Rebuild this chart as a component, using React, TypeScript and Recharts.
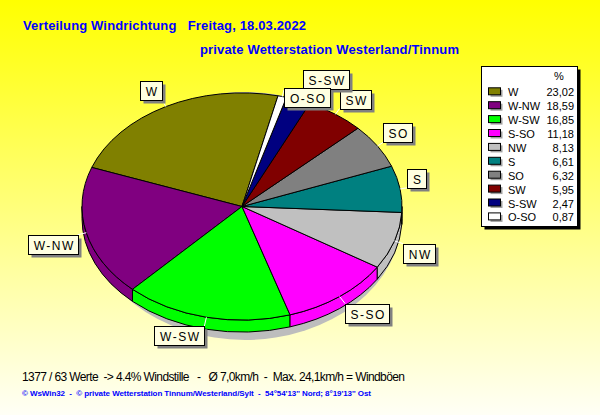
import React from 'react';
import { PieChart, Pie } from 'recharts';

const names = ['W', 'W-NW', 'W-SW', 'S-SO', 'NW', 'S', 'SO', 'SW', 'S-SW', 'O-SO'];
const values = [23.02, 18.59, 16.85, 11.18, 8.13, 6.61, 6.32, 5.95, 2.47, 0.87];
const colors = ['#808000', '#800080', '#00FF00', '#FF00FF', '#C0C0C0', '#008080', '#808080', '#800000', '#000080', '#FFFFFF'];

const titleLine1 = 'Verteilung Windrichtung   Freitag, 18.03.2022';
const titleLine2 = 'private Wetterstation Westerland/Tinnum';
const footerLine1 = '1377 / 63 Werte  -> 4.4% Windstille   -   Ø 7,0km/h  -  Max. 24,1km/h = Windböen';
const footerLine2 = "© WsWin32  -  © private Wetterstation Tinnum/Westerland/Sylt  -  54°54'13'' Nord; 8°19'13'' Ost";
const legendHeader = '%';

const data = names.map((n, i) => ({ name: n, value: values[i], fill: colors[i] }));

const RAD = Math.PI / 180;
const TILT = 0.71;
const DEPTH = 12;
const FONT = 'Arial, "Liberation Sans", sans-serif';

function ept(cx: number, cy: number, r: number, a: number, dy = 0): [number, number] {
  return [cx + r * Math.cos(a * RAD), cy - r * TILT * Math.sin(a * RAD) + dy];
}
const f = (p: [number, number]) => `${p[0].toFixed(2)},${p[1].toFixed(2)}`;

function Slice(props: any) {
  const { cx, cy, outerRadius: r, startAngle, endAngle, fill } = props;
  const s = Math.min(startAngle, endAngle);
  const e = Math.max(startAngle, endAngle);
  const ry = r * TILT;
  const large = e - s > 180 ? 1 : 0;
  const top = `M${cx},${cy} L${f(ept(cx, cy, r, s))} A${r},${ry} 0 ${large} 0 ${f(ept(cx, cy, r, e))} Z`;
  const walls: string[] = [];
  for (const k of [0, 360]) {
    const a = Math.max(s, 180 + k);
    const b = Math.min(e, 360 + k);
    if (b > a) {
      walls.push(
        `M${f(ept(cx, cy, r, a))} A${r},${ry} 0 0 0 ${f(ept(cx, cy, r, b))} L${f(ept(cx, cy, r, b, DEPTH))} A${r},${ry} 0 0 1 ${f(ept(cx, cy, r, a, DEPTH))} Z`
      );
    }
  }
  return (
    <g>
      {walls.map((d, i) => (
        <path key={i} d={d} fill={fill} stroke="#000" strokeWidth={1} />
      ))}
      <path d={top} fill={fill} stroke="#000" strokeWidth={1} />
    </g>
  );
}

const charW: Record<string, number> = { W: 11.3, N: 8.7, S: 8.0, O: 9.3, '-': 4.0 };
const textWidth = (t: string) => t.split('').reduce((acc, ch) => acc + (charW[ch] || 8) + 1.5, 0);

const labelNudge: Record<string, [number, number]> = { 'S-SW': [2, -5], 'O-SO': [0, 17] };

function renderLabel(props: any) {
  const { cx, cy, midAngle, outerRadius: r, name } = props;
  const c = Math.cos(midAngle * RAD);
  const sn = Math.sin(midAngle * RAD);
  const [ax, ay] = ept(cx, cy, r, midAngle);
  const L = sn < 0 ? 9 : 7;
  const ex = ax + L * c;
  const ey = ay - L * sn;
  const w = Math.round(textWidth(name) + 9);
  const h = 19;
  const nd = labelNudge[name] || [0, 0];
  const bx = Math.round((c >= 0 ? ex : ex - w) + nd[0]) + 0.5;
  const by = Math.round((sn >= 0 ? ey - h : ey) + nd[1]) + 0.5;
  return (
    <g>
      <line x1={ax} y1={ay} x2={ex} y2={ey} stroke="#FFFFFF" strokeWidth={1} />
      <rect x={bx + 3} y={by + 3} width={w} height={h} fill="#808080" />
      <rect x={bx} y={by} width={w} height={h} fill="#FFFFE1" stroke="#000" strokeWidth={1} />
      <text x={bx + w / 2 + 0.75} y={by + 14} textAnchor="middle" fontSize={12} letterSpacing={1.5} fontFamily={FONT} fill="#000">
        {name}
      </text>
    </g>
  );
}

function Background() {
  const rowY = (i: number) => 96.3 + 13.9 * i;
  return (
    <svg width={600} height={415} style={{ position: 'absolute', left: 0, top: 0 }}>
      <defs>
        <linearGradient id="bg" x1="0" y1="0" x2="0" y2="1">
          <stop offset="0%" stopColor="#FFFF00" />
          <stop offset="100%" stopColor="#FFFFF6" />
        </linearGradient>
      </defs>
      <rect x={0} y={0} width={600} height={415} fill="url(#bg)" />
      <ellipse cx={245} cy={216} rx={157} ry={124} fill="#BDBDBD" />
      <text x={23} y={30} fontSize={13} fontWeight="bold" fontFamily={FONT} fill="#0000FF" textLength={283} style={{ whiteSpace: 'pre' }}>
        {titleLine1}
      </text>
      <text x={200} y={54} fontSize={13} fontWeight="bold" fontFamily={FONT} fill="#0000FF" textLength={259} style={{ whiteSpace: 'pre' }}>
        {titleLine2}
      </text>
      <rect x={484.5} y={69.5} width={96} height={160} fill="#000" />
      <rect x={481.5} y={66.5} width={96} height={160} fill="#FFFFFF" stroke="#000" strokeWidth={1} />
      <text x={559} y={80} textAnchor="middle" fontSize={11} fontFamily={FONT} fill="#000">
        {legendHeader}
      </text>
      {names.map((n, i) => (
        <g key={n}>
          <rect x={490.5} y={rowY(i) - 6.5} width={12} height={7} fill="#A0A0A0" />
          <rect x={488.5} y={rowY(i) - 8.5} width={12} height={7} fill={colors[i]} stroke="#000" strokeWidth={1} />
          <text x={508} y={rowY(i)} fontSize={11} fontFamily={FONT} fill="#000">
            {n}
          </text>
          <text x={574} y={rowY(i)} textAnchor="end" fontSize={11} fontFamily={FONT} fill="#000">
            {values[i].toFixed(2).replace('.', ',')}
          </text>
        </g>
      ))}
      <text x={22} y={381} fontSize={12} fontFamily={FONT} fill="#000" textLength={383} style={{ whiteSpace: 'pre' }}>
        {footerLine1}
      </text>
      <text x={22} y={396} fontSize={8} fontWeight="bold" fontFamily={FONT} fill="#0000FF" textLength={349} style={{ whiteSpace: 'pre' }}>
        {footerLine2}
      </text>
    </svg>
  );
}

export default function App() {
  return (
    <div style={{ position: 'absolute', left: 0, top: 0, width: 600, height: 415, overflow: 'hidden' }}>
      <Background />
      <div style={{ position: 'absolute', left: 0, top: 0 }}>
        <PieChart width={600} height={415} margin={{ top: 0, right: 0, bottom: 0, left: 0 }}>
          <Pie
            data={data}
            dataKey="value"
            nameKey="name"
            cx={242}
            cy={206.5}
            outerRadius={160}
            startAngle={77}
            endAngle={437}
            stroke="#000"
            shape={Slice}
            label={renderLabel}
            labelLine={false}
            isAnimationActive={false}
          />
        </PieChart>
      </div>
    </div>
  );
}
